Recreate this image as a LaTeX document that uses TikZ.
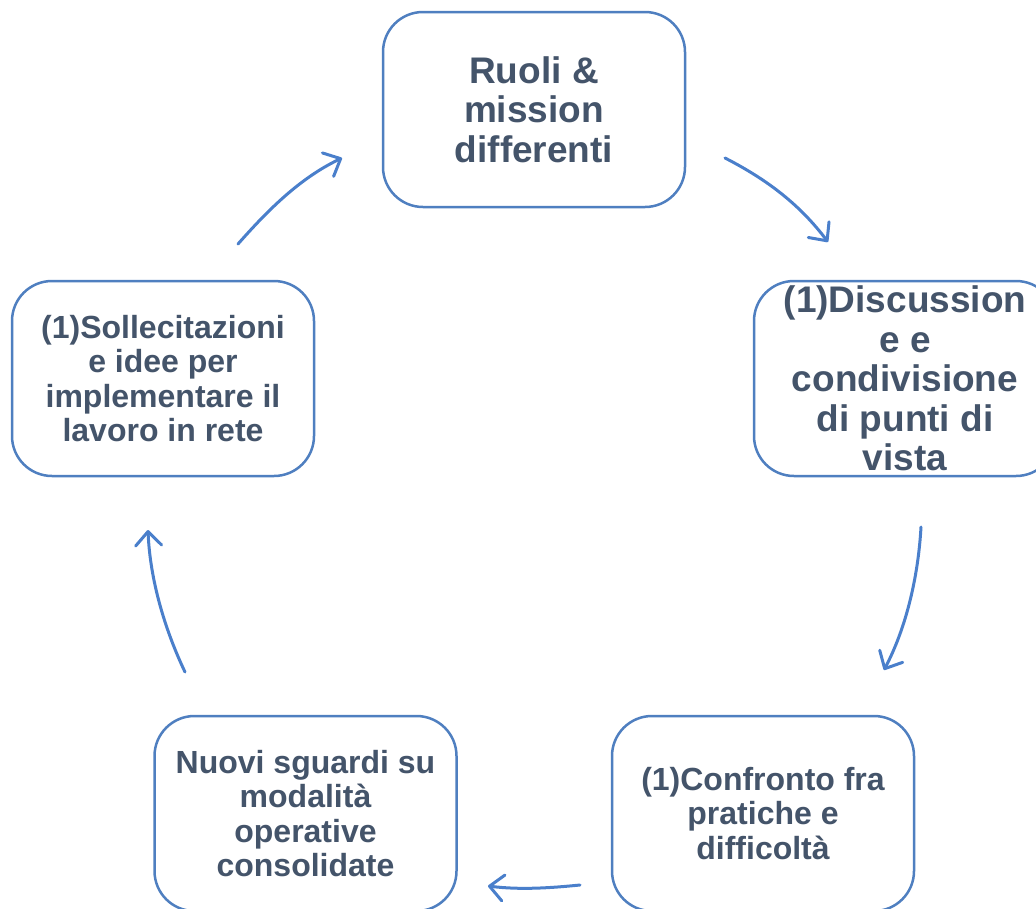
\documentclass[tikz,border=0pt]{standalone}
\usepackage{fontspec}
\setmainfont{Liberation Sans}
\usetikzlibrary{arrows.meta}
\definecolor{boxblue}{HTML}{4F7FC0}
\definecolor{arrowblue}{HTML}{4A7FCB}
\definecolor{txt}{HTML}{44546A}
\tikzset{
  cyclebox/.style={draw=boxblue, line width=2.5pt, rounded corners=40pt, fill=white,
    minimum width=302pt, minimum height=195pt, align=center, inner sep=0pt,
    text=txt, font=\bfseries},
  bigtxt/.style={font=\bfseries\fontsize{37}{39.5}\selectfont},
  smalltxt/.style={font=\bfseries\fontsize{32}{34.3}\selectfont},
  cyclearrow/.style={draw=arrowblue, line width=3pt, line cap=round,
    -{Straight Barb[length=14pt,width=26pt,line width=3pt,round]}}
}
\begin{document}
\begin{tikzpicture}[x=1pt,y=-1pt]
\useasboundingbox (0,0) rectangle (1036,908);
\clip (0,0) rectangle (1036,908);
\node[cyclebox,bigtxt] (top) at (534,109.5) {Ruoli \&\\mission\\differenti};
\node[cyclebox,bigtxt] (right) at (905,378.5) {(1)Discussion\\e e\\condivisione\\di punti di\\vista};
\node[cyclebox,smalltxt] (br) at (763,813.5) {(1)Confronto fra\\pratiche e\\difficoltà};
\node[cyclebox,smalltxt] (bl) at (305.5,813.5) {Nuovi sguardi su\\modalità\\operative\\consolidate};
\node[cyclebox,smalltxt] (left) at (163,378.5) {(1)Sollecitazioni\\e idee per\\implementare il\\lavoro in rete};
\coordinate (a1s) at (725,158); \coordinate (a1e) at (828,242);
\coordinate (a2s) at (921,527); \coordinate (a2e) at (884,670);
\coordinate (a3s) at (580,885); \coordinate (a3e) at (488,886);
\coordinate (a4s) at (185,672); \coordinate (a4e) at (148,530);
\coordinate (a5s) at (238,244); \coordinate (a5e) at (342,158);
\draw[cyclearrow] (a1s) .. controls (768,180) and (800,205) .. (a1e);
\draw[cyclearrow] (a2s) .. controls (918,580) and (905,630) .. (a2e);
\draw[cyclearrow] (a3s) .. controls (550,888) and (520,890) .. (a3e);
\draw[cyclearrow] (a4s) .. controls (165,630) and (150,580) .. (a4e);
\draw[cyclearrow] (a5s) .. controls (268,210) and (300,178) .. (a5e);
\end{tikzpicture}
\end{document}
